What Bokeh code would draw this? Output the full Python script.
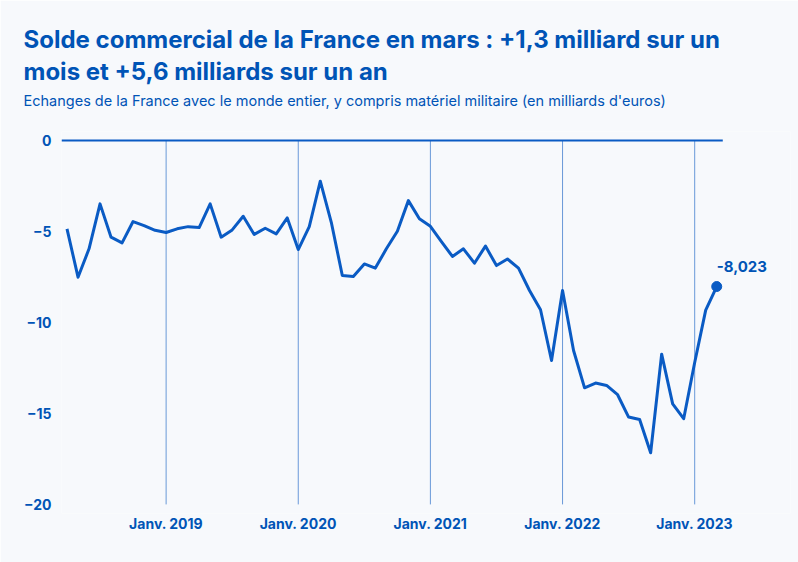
from bokeh.plotting import figure
from bokeh.models import Range1d, Label, Title, FixedTicker
from bokeh.embed import file_html
from bokeh.resources import INLINE
import pandas as pd

# ---- data (milliards d'euros), avril 2018 -> mars 2023 ----
months = [str(p) for p in pd.period_range("2018-04", "2023-03", freq="M")]
balance = [
    -4.85, -7.51, -5.95, -3.48, -5.31, -5.62, -4.45, -4.67, -4.93,            # 2018 (avr-déc)
    -5.05, -4.85, -4.73, -4.78, -3.48, -5.31, -4.91, -4.16, -5.16, -4.82, -5.13, -4.25,  # 2019
    -5.99, -4.73, -2.23, -4.49, -7.42, -7.47, -6.78, -7.01, -5.95, -4.98, -3.30, -4.30,  # 2020
    -4.71, -5.55, -6.37, -5.95, -6.74, -5.80, -6.87, -6.51, -7.01, -8.24, -9.30, -12.09, # 2021
    -8.24, -11.54, -13.59, -13.33, -13.46, -13.97, -15.20, -15.33, -17.16, -11.74, -14.47, -15.29,  # 2022
    -12.20, -9.32, -8.023,                                                     # 2023
]
x_tick_months = ["2019-01", "2020-01", "2021-01", "2022-01", "2023-01"]
x_tick_labels = ["Janv. 2019", "Janv. 2020", "Janv. 2021", "Janv. 2022", "Janv. 2023"]
y_ticks = [0, -5, -10, -15, -20]
y_tick_labels = ["0", "\u22125", "\u221210", "\u221215", "\u221220"]
last_label = "-8,023"

title_1 = "Solde commercial de la France en mars : +1,3 milliard sur un"
title_2 = "mois et +5,6 milliards sur un an"
subtitle = "Echanges de la France avec le monde entier, y compris matériel militaire (en milliards d'euros)"


def month_index(m):
    y, mo = m.split("-")
    return (int(y) - 2018) * 12 + int(mo) - 1


x = [month_index(m) for m in months]
x_ticks = [month_index(m) for m in x_tick_months]

TEXT = "#0054b6"
LINE = "#0a5bc4"
GRID = "#3a78cc"
BG = "#f7f9fc"
FONT = "Inter"

X0 = 2.5            # left edge of the plotting area (months)
X_ZERO_END = 62.55  # where the zero line stops

p = figure(
    width=798, height=562,
    output_backend="svg", toolbar_location=None,
    x_range=Range1d(X0, 68.7), y_range=Range1d(-20.5, 0.5),
    background_fill_color=BG, border_fill_color=BG, outline_line_color=None,
    min_border_left=61, min_border_right=8, min_border_bottom=49, min_border_top=131,
    title=title_1,
)

# titles (stacked from the plot area upwards: spacer, subtitle, line 2, line 1)
p.title.text_font = FONT
p.title.text_font_size = "24px"
p.title.text_font_style = "bold"
p.title.text_color = TEXT
p.title.align = "left"
p.title.offset = -38
p.title.standoff = 0

spacer = Title(text=" ", text_font=FONT, text_font_size="10px", standoff=6)
sub = Title(text=subtitle, text_font=FONT, text_font_size="14.5px", text_font_style="normal",
            text_color=TEXT, align="left", offset=-38, standoff=6)
t2 = Title(text=title_2, text_font=FONT, text_font_size="24px", text_font_style="bold",
           text_color=TEXT, align="left", offset=-38, standoff=2)
p.add_layout(spacer, "above")
p.add_layout(sub, "above")
p.add_layout(t2, "above")

# grid / axes
p.xgrid.visible = False
p.ygrid.visible = False

p.xaxis.ticker = FixedTicker(ticks=x_ticks)
p.xaxis.major_label_overrides = dict(zip(x_ticks, x_tick_labels))
p.yaxis.ticker = FixedTicker(ticks=y_ticks)
p.yaxis.major_label_overrides = dict(zip(y_ticks, y_tick_labels))
for ax in (p.xaxis, p.yaxis):
    ax.axis_line_color = None
    ax.major_tick_line_color = None
    ax.minor_tick_line_color = None
    ax.major_tick_out = 0
    ax.major_tick_in = 0
    ax.minor_tick_out = 0
    ax.major_label_text_font = FONT
    ax.major_label_text_font_size = "14px"
    ax.major_label_text_font_style = "bold"
    ax.major_label_text_color = TEXT
p.yaxis.major_label_standoff = 10
p.xaxis.major_label_standoff = 1

# vertical January lines
p.segment(x0=x_ticks, y0=[y_ticks[0]] * len(x_ticks), x1=x_ticks, y1=[y_ticks[-1]] * len(x_ticks),
          line_color=GRID, line_width=1, line_alpha=0.75)

# zero line
p.segment(x0=[X0], y0=[y_ticks[0]], x1=[X_ZERO_END], y1=[y_ticks[0]], line_color=LINE, line_width=2)

# data line
p.line(x, balance, line_color=LINE, line_width=3, line_join="round")
p.scatter([x[-1]], [balance[-1]], size=10, fill_color=LINE, line_color=LINE)

p.add_layout(Label(x=x[-1], y=balance[-1], text=last_label, x_offset=0, y_offset=20,
                   text_baseline="middle", text_align="left", text_font=FONT,
                   text_font_size="15px", text_font_style="bold", text_color=TEXT))

with open("out.html", "w") as f:
    f.write(file_html(p, INLINE))
